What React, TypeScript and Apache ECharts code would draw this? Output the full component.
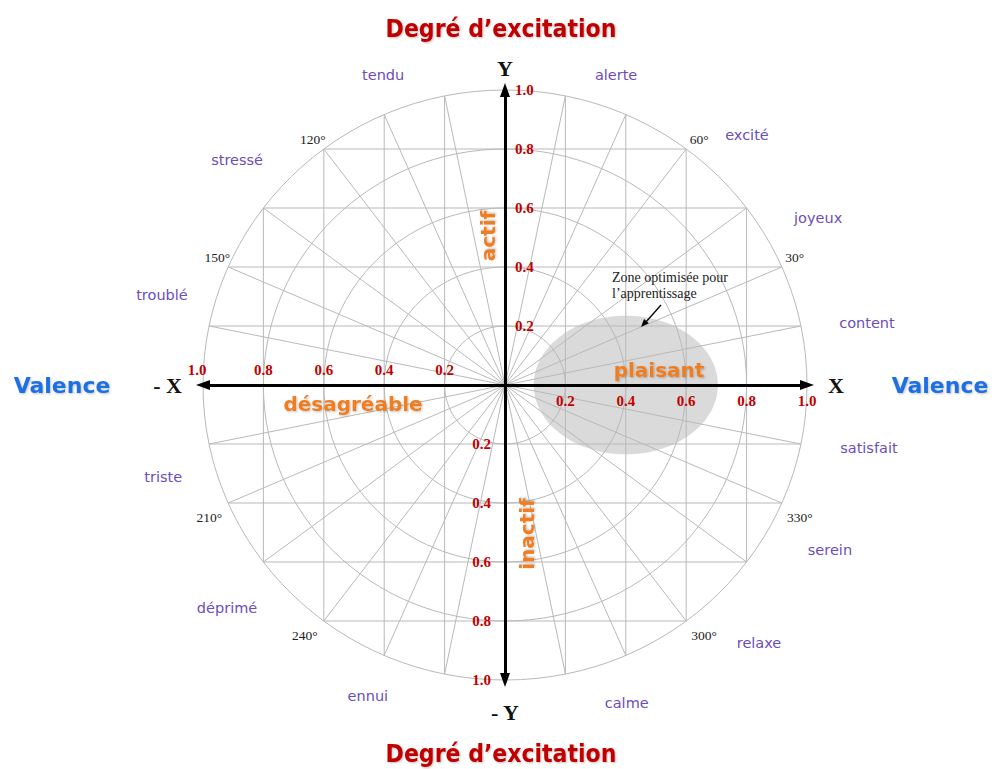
import React, { useEffect, useRef } from 'react';
import * as echarts from 'echarts';

// ---- data ----
const ringRadii = [0.2, 0.4, 0.6, 0.8, 1.0];
const chordValues = [-0.8, -0.6, -0.4, -0.2, 0.2, 0.4, 0.6, 0.8];
const tickValues = [0.2, 0.4, 0.6, 0.8, 1.0];
const degreeMarks = [30, 60, 120, 150, 210, 240, 300, 330];
// each degree mark sits at the rim end of a grid chord: [side of the x axis, chord y value]
const degreeAnchors = [[1, 0.4], [1, 0.8], [-1, 0.8], [-1, 0.4], [-1, -0.4], [-1, -0.8], [1, -0.8], [1, -0.4]];
const emotionNames = ['content', 'joyeux', 'excité', 'alerte', 'tendu', 'stressé', 'troublé', 'triste', 'déprimé', 'ennui', 'calme', 'relaxe', 'serein', 'satisfait'];
const emotionAngles = [10, 28.6, 46.6, 70.7, 111, 139.3, 165, 195.4, 219.4, 246.7, 290.5, 313.9, 332.5, 349.9];
const emotionRadii = [1.217, 1.181, 1.166, 1.113, 1.126, 1.17, 1.176, 1.174, 1.191, 1.148, 1.151, 1.213, 1.213, 1.224];
const zoneCenter = [0.4, 0];
const zoneRadii = [0.305, 0.235];

// ---- styles ----
const GRID = '#b9b9b9';
const RED = '#c00000';
const ORANGE = '#ef7d22';
const BLUE = '#1f6fe3';
const PURPLE = '#6b4dbd';
const SERIF = '"Liberation Serif", "Times New Roman", serif';
const SANS = '"DejaVu Sans", Verdana, sans-serif';
const COND = '"DejaVu Sans Condensed", "Liberation Sans Narrow", "DejaVu Sans", sans-serif';

const rad = (d: number) => (d * Math.PI) / 180;

export default function App() {
  const ref = useRef<HTMLDivElement>(null);
  useEffect(() => {
    if (!ref.current) return;
    const chart = echarts.init(ref.current, null, { renderer: 'svg' });

    const axisNameStyle = { color: '#111', fontSize: 22, fontWeight: 'bold' as const, fontFamily: SERIF };
    const visibleLine = {
      show: true,
      onZero: true,
      symbol: ['triangle', 'triangle'],
      symbolSize: [10, 14],
      lineStyle: { color: '#000', width: 3 },
    };
    const hiddenLine = {
      show: true,
      onZero: true,
      symbol: ['none', 'none'],
      lineStyle: { color: 'rgba(0,0,0,0)', width: 0 },
    };
    const baseAxis = {
      type: 'value', min: -1, max: 1, interval: 0.2, z: 5,
      axisTick: { show: false }, splitLine: { show: false }, axisLabel: { show: false },
      nameTextStyle: axisNameStyle,
    };

    const textShadow = { textShadowColor: 'rgba(0,0,0,0.25)', textShadowBlur: 2, textShadowOffsetX: 1, textShadowOffsetY: 1 };
    const tickFont = `bold 15px ${SERIF}`;

    const gridLine = (a: number[], b: number[]) => ({
      type: 'line', shape: { x1: a[0], y1: a[1], x2: b[0], y2: b[1] }, style: { stroke: GRID, lineWidth: 1 },
    });

    const option: any = {
      animation: false,
      backgroundColor: '#ffffff',
      grid: { left: 203, top: 90, width: 604, height: 590, containLabel: false, outerBoundsMode: 'none' },
      xAxis: [
        { ...baseAxis, position: 'bottom', name: 'X', nameLocation: 'end', nameGap: 21, axisLine: visibleLine },
        { ...baseAxis, position: 'top', name: '- X', nameLocation: 'start', nameGap: 21, axisLine: hiddenLine },
      ],
      yAxis: [
        { ...baseAxis, position: 'left', name: 'Y', nameLocation: 'end', nameGap: 11, axisLine: visibleLine },
        { ...baseAxis, position: 'right', name: '- Y', nameLocation: 'start', nameGap: 21, axisLine: hiddenLine },
      ],
      series: [
        {
          name: 'zone', type: 'custom', coordinateSystem: 'cartesian2d', silent: true, z: 1,
          data: [[zoneCenter[0], zoneCenter[1], zoneRadii[0], zoneRadii[1]]],
          renderItem: (_p: any, api: any) => {
            const cx = api.value(0), cy = api.value(1), rx = api.value(2), ry = api.value(3);
            const c = api.coord([cx, cy]);
            const ex = api.coord([cx + rx, cy]);
            const ey = api.coord([cx, cy + ry]);
            return {
              type: 'ellipse',
              shape: { cx: c[0], cy: c[1], rx: Math.abs(ex[0] - c[0]), ry: Math.abs(c[1] - ey[1]) },
              style: { fill: '#dadada', stroke: 'none' },
            };
          },
        },
        {
          name: 'rings', type: 'custom', coordinateSystem: 'cartesian2d', silent: true, z: 2,
          data: ringRadii.map((r) => [r]),
          renderItem: (_p: any, api: any) => {
            const r = api.value(0);
            const c = api.coord([0, 0]);
            const ex = api.coord([r, 0]);
            const ey = api.coord([0, r]);
            return {
              type: 'ellipse',
              shape: { cx: c[0], cy: c[1], rx: Math.abs(ex[0] - c[0]), ry: Math.abs(c[1] - ey[1]) },
              style: { fill: 'none', stroke: GRID, lineWidth: 1 },
            };
          },
        },
        {
          // vertical and horizontal chords, plus the rays from the centre to each chord's rim ends
          name: 'chords', type: 'custom', coordinateSystem: 'cartesian2d', silent: true, z: 2,
          data: chordValues.map((v) => [v]),
          renderItem: (_p: any, api: any) => {
            const v = api.value(0);
            const h = Math.sqrt(1 - v * v);
            const o = api.coord([0, 0]);
            const a = api.coord([v, -h]), b = api.coord([v, h]);
            const c = api.coord([-h, v]), d = api.coord([h, v]);
            const children: any[] = [gridLine(a, b), gridLine(c, d), gridLine(o, a), gridLine(o, b)];
            if (Math.abs(v) < 0.5) children.push(gridLine(o, c), gridLine(o, d));
            return { type: 'group', children };
          },
        },
        {
          name: 'ticks', type: 'custom', coordinateSystem: 'cartesian2d', silent: true, z: 6,
          data: tickValues.map((v) => [v]),
          renderItem: (_p: any, api: any) => {
            const v = api.value(0);
            const t = v.toFixed(1);
            const px = api.coord([v, 0]);
            const nx = api.coord([-v, 0]);
            const py = api.coord([0, v]);
            const ny = api.coord([0, -v]);
            const mk = (x: number, y: number, align: string, valign: string) => ({
              type: 'text', x, y,
              style: { text: t, fill: RED, font: tickFont, textAlign: align, textVerticalAlign: valign },
            });
            return {
              type: 'group',
              children: [
                mk(px[0], px[1] + 8, 'center', 'top'),
                mk(nx[0] - (v > 0.99 ? 6 : 0), nx[1] - 8, 'center', 'bottom'),
                mk(py[0] + 10, py[1], 'left', 'middle'),
                mk(ny[0] - 14, ny[1], 'right', 'middle'),
              ],
            };
          },
        },
        {
          name: 'emotions', type: 'custom', coordinateSystem: 'cartesian2d', silent: true, z: 3,
          data: emotionAngles.map((a, i) => [a, emotionRadii[i]]),
          renderItem: (p: any, api: any) => {
            const a = rad(api.value(0));
            const r = api.value(1);
            const pt = api.coord([r * Math.cos(a), r * Math.sin(a)]);
            return {
              type: 'text', x: pt[0], y: pt[1],
              style: { text: emotionNames[p.dataIndex], fill: PURPLE, font: `14.5px ${SANS}`, textAlign: 'center', textVerticalAlign: 'middle' },
            };
          },
        },
        {
          name: 'degrees', type: 'custom', coordinateSystem: 'cartesian2d', silent: true, z: 3,
          data: degreeAnchors.map((d) => [d[0], d[1]]),
          renderItem: (p: any, api: any) => {
            const side = api.value(0);
            const y = api.value(1);
            const x = side * Math.sqrt(1 - y * y);
            const pt = api.coord([x, y]);
            const up = y > 0;
            const right = side > 0;
            const dx = up ? (right ? 13 : -11) : right ? 18 : -19;
            const dy = up ? -10 : 14;
            return {
              type: 'text', x: pt[0] + dx, y: pt[1] + dy,
              style: { text: `${degreeMarks[p.dataIndex]}°`, fill: '#222', font: `13.5px ${SERIF}`, textAlign: 'center', textVerticalAlign: 'middle' },
            };
          },
        },
      ],
      graphic: [
        { type: 'text', x: 501, y: 28, z: 10, style: { text: 'Degré d’excitation', fill: RED, font: `bold 24.5px ${COND}`, textAlign: 'center', textVerticalAlign: 'middle', ...textShadow } },
        { type: 'text', x: 501, y: 753, z: 10, style: { text: 'Degré d’excitation', fill: RED, font: `bold 24.5px ${COND}`, textAlign: 'center', textVerticalAlign: 'middle', ...textShadow } },
        { type: 'text', x: 62, y: 385, z: 10, style: { text: 'Valence', fill: BLUE, font: `bold 22px ${SANS}`, textAlign: 'center', textVerticalAlign: 'middle', ...textShadow } },
        { type: 'text', x: 940, y: 385, z: 10, style: { text: 'Valence', fill: BLUE, font: `bold 22px ${SANS}`, textAlign: 'center', textVerticalAlign: 'middle', ...textShadow } },
        { type: 'text', x: 488, y: 236, rotation: Math.PI / 2, z: 10, style: { text: 'actif', fill: ORANGE, font: `bold 20px ${SANS}`, textAlign: 'center', textVerticalAlign: 'middle', ...textShadow } },
        { type: 'text', x: 527, y: 534, rotation: Math.PI / 2, z: 10, style: { text: 'inactif', fill: ORANGE, font: `bold 20px ${SANS}`, textAlign: 'center', textVerticalAlign: 'middle', ...textShadow } },
        { type: 'text', x: 659, y: 370, z: 10, style: { text: 'plaisant', fill: ORANGE, font: `bold 20px ${SANS}`, textAlign: 'center', textVerticalAlign: 'middle', ...textShadow } },
        { type: 'text', x: 353, y: 404, z: 10, style: { text: 'désagréable', fill: ORANGE, font: `bold 20px ${SANS}`, textAlign: 'center', textVerticalAlign: 'middle', ...textShadow } },
        { type: 'text', x: 612, y: 277, z: 10, style: { text: 'Zone optimisée pour', fill: '#222', font: `14px ${SERIF}`, textAlign: 'left', textVerticalAlign: 'middle' } },
        { type: 'text', x: 612, y: 293, z: 10, style: { text: 'l’apprentissage', fill: '#222', font: `14px ${SERIF}`, textAlign: 'left', textVerticalAlign: 'middle' } },
        { type: 'line', z: 10, shape: { x1: 661, y1: 305, x2: 645, y2: 323 }, style: { stroke: '#000', lineWidth: 1.3 } },
        { type: 'polygon', z: 10, shape: { points: [[641, 327], [648.8, 323.2], [644.0, 318.9]] }, style: { fill: '#000' } },
      ],
    };

    chart.setOption(option);
    return () => chart.dispose();
  }, []);

  return <div ref={ref} style={{ position: 'absolute', left: 0, top: 0, width: 992, height: 769, background: '#fff' }} />;
}
